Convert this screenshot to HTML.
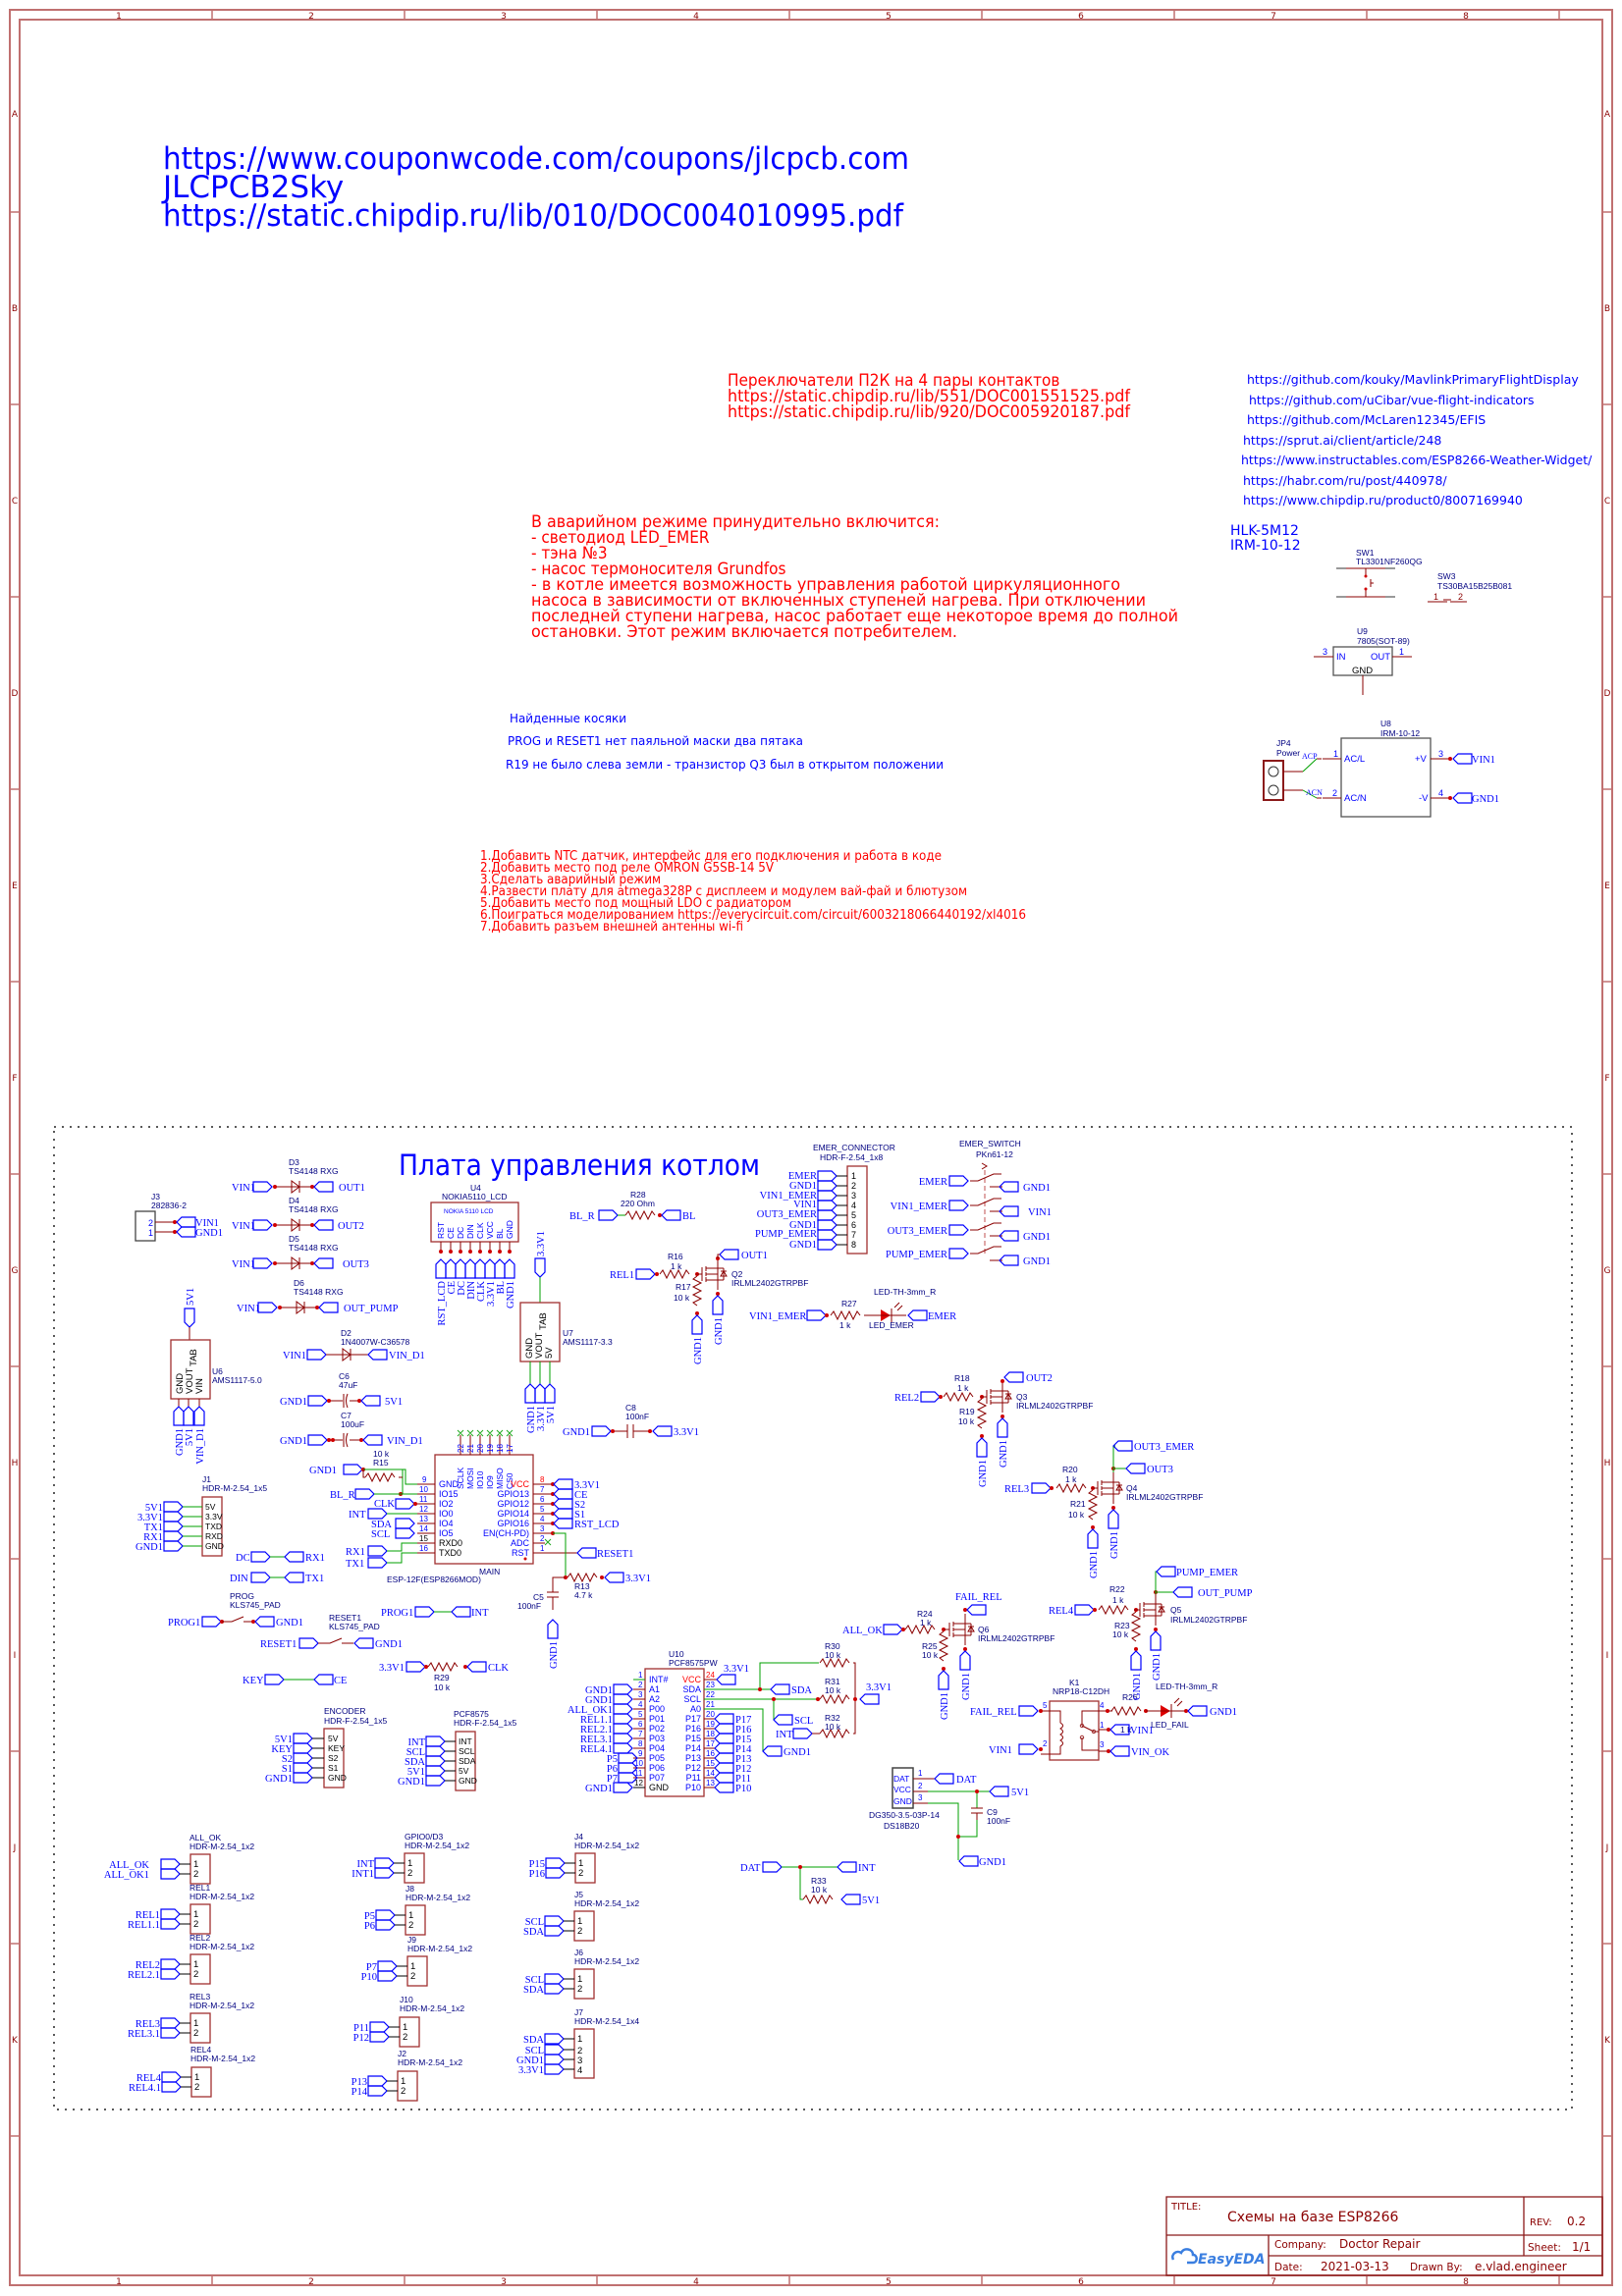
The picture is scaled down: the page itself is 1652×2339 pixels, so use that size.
<!DOCTYPE html>
<html><head><meta charset="utf-8">
<style>
html,body{margin:0;padding:0;background:#fff;}
svg{display:block}
.n{fill:#0000ff;font-family:"Liberation Serif",serif;font-size:10.5px}
.c{fill:#000080;font-family:"Liberation Sans","DejaVu Sans",sans-serif;font-size:8.5px}
.p{fill:#000;font-family:"Liberation Sans",sans-serif;font-size:9.5px}
.pn{fill:#8b0000;font-family:"Liberation Sans",sans-serif;font-size:9px}
.fr{fill:#8b0000;font-family:"DejaVu Sans",sans-serif;font-size:9px}
.red{fill:#ff0000;font-family:"DejaVu Sans Condensed","DejaVu Sans","Noto Sans CJK SC",sans-serif;font-stretch:condensed}
.blue{fill:#0000ff;font-family:"DejaVu Sans","Noto Sans CJK SC",sans-serif}
.tb{fill:#8b0000;font-family:"DejaVu Sans",sans-serif}
.nl{fill:none;stroke:#0000ff;stroke-width:1.2}
.w{stroke:#8b0000;stroke-width:1;fill:none}
.g{stroke:#00a000;stroke-width:1;fill:none}
.k{stroke:#a03030;stroke-width:1.3;fill:none}
.d{fill:#d00000}
</style></head><body>
<svg width="1652" height="2339" viewBox="0 0 1652 2339" xmlns="http://www.w3.org/2000/svg">
<defs>
<path id="A" class="nl" d="M0,-5 h14 l5,5 l-5,5 h-14 z"/>
<path id="B" class="nl" d="M0,0 l5,-5 h14 v10 h-14 z"/>
<path id="U" class="nl" d="M0,0 l5,5 v14 h-10 v-14 z"/>
<path id="D" class="nl" d="M-5,0 h10 v14 l-5,5 l-5,-5 z"/>
<path id="RH" class="w" d="M0,0 l3,-4 l4,8 l4,-8 l4,8 l4,-8 l4,8 l4,-8 l3,4"/>
<path id="RV" class="w" d="M0,0 l-4,3 l8,4 l-8,4 l8,4 l-8,4 l8,4 l-8,4 l4,3"/>
<g id="Q"><path class="w" d="M-8,0 h6 M-2,-7 v14 M2,-8 v5 M2,-2 v4 M2,3 v5 M2,-6 h12 v-10 M2,6 h12 v10 M2,0 h12 v-6 M14,0 v6 M20,-6 v12 M14,-6 h6 M14,6 h6"/><path class="w" d="M17,2 l3,-5 l3,5 z M17,-3 h6"/></g>
</defs>

<!-- FRAME -->
<rect x="10" y="10" width="1632" height="2318" fill="none" stroke="#c07070" stroke-width="2"/>
<rect x="20" y="20" width="1612" height="2298" fill="none" stroke="#c07070" stroke-width="2"/>
<g stroke="#c07070" stroke-width="1.5">
<path d="M216,10v10M412,10v10M608,10v10M804,10v10M1000,10v10M1196,10v10M1392,10v10M1588,10v10"/>
<path d="M216,2318v10M412,2318v10M608,2318v10M804,2318v10M1000,2318v10M1196,2318v10M1392,2318v10M1588,2318v10"/>
<path d="M10,216h10M10,412h10M10,608h10M10,804h10M10,1000h10M10,1196h10M10,1392h10M10,1588h10M10,1784h10M10,1980h10M10,2176h10"/>
<path d="M1632,216h10M1632,412h10M1632,608h10M1632,804h10M1632,1000h10M1632,1196h10M1632,1392h10M1632,1588h10M1632,1784h10M1632,1980h10M1632,2176h10"/>
</g>
<g class="fr" text-anchor="middle">
<text x="121" y="19">1</text><text x="317" y="19">2</text><text x="513" y="19">3</text><text x="709" y="19">4</text><text x="905" y="19">5</text><text x="1101" y="19">6</text><text x="1297" y="19">7</text><text x="1493" y="19">8</text>
<text x="121" y="2327">1</text><text x="317" y="2327">2</text><text x="513" y="2327">3</text><text x="709" y="2327">4</text><text x="905" y="2327">5</text><text x="1101" y="2327">6</text><text x="1297" y="2327">7</text><text x="1493" y="2327">8</text>
<text x="15" y="119">A</text><text x="15" y="317">B</text><text x="15" y="513">C</text><text x="15" y="709">D</text><text x="15" y="905">E</text><text x="15" y="1101">F</text><text x="15" y="1297">G</text><text x="15" y="1493">H</text><text x="15" y="1689">I</text><text x="15" y="1885">J</text><text x="15" y="2081">K</text>
<text x="1637" y="119">A</text><text x="1637" y="317">B</text><text x="1637" y="513">C</text><text x="1637" y="709">D</text><text x="1637" y="905">E</text><text x="1637" y="1101">F</text><text x="1637" y="1297">G</text><text x="1637" y="1493">H</text><text x="1637" y="1689">I</text><text x="1637" y="1885">J</text><text x="1637" y="2081">K</text>
</g>

<!-- TOP TEXT -->
<g class="blue" style="font-size:31px">
<text x="166" y="172" textLength="760" lengthAdjust="spacingAndGlyphs">https://www.couponwcode.com/coupons/jlcpcb.com</text>
<text x="166" y="201">JLCPCB2Sky</text>
<text x="166" y="230" textLength="754" lengthAdjust="spacingAndGlyphs">https://static.chipdip.ru/lib/010/DOC004010995.pdf</text>
</g>
<g class="red" style="font-size:17px">
<text x="741" y="393">Переключатели П2К на 4 пары контактов</text>
<text x="741" y="409" textLength="410" lengthAdjust="spacingAndGlyphs">https://static.chipdip.ru/lib/551/DOC001551525.pdf</text>
<text x="741" y="425" textLength="410" lengthAdjust="spacingAndGlyphs">https://static.chipdip.ru/lib/920/DOC005920187.pdf</text>
</g>
<g class="red" style="font-size:17px">
<text x="541" y="537" textLength="416" lengthAdjust="spacingAndGlyphs">В аварийном режиме принудительно включится:</text>
<text x="541" y="553">- светодиод LED_EMER</text>
<text x="541" y="569">- тэна №3</text>
<text x="541" y="585">- насос термоносителя Grundfos</text>
<text x="541" y="601" textLength="600" lengthAdjust="spacingAndGlyphs">- в котле имеется возможность управления работой циркуляционного</text>
<text x="541" y="617" textLength="626" lengthAdjust="spacingAndGlyphs">насоса в зависимости от включенных ступеней нагрева. При отключении</text>
<text x="541" y="633" textLength="659" lengthAdjust="spacingAndGlyphs">последней ступени нагрева, насос работает еще некоторое время до полной</text>
<text x="541" y="649" textLength="434" lengthAdjust="spacingAndGlyphs">остановки. Этот режим включается потребителем.</text>
</g>
<g class="blue" style="font-size:12.5px">
<text x="519" y="736" textLength="119" lengthAdjust="spacingAndGlyphs">Найденные косяки</text>
<text x="517" y="759" textLength="301" lengthAdjust="spacingAndGlyphs">PROG и RESET1 нет паяльной маски два пятака</text>
<text x="515" y="783" textLength="446" lengthAdjust="spacingAndGlyphs">R19 не было слева земли - транзистор Q3 был в открытом положении</text>
</g>
<g class="red" style="font-size:13px">
<text x="489" y="876" textLength="470" lengthAdjust="spacingAndGlyphs">1.Добавить NTC датчик, интерфейс для его подключения и работа в коде</text>
<text x="489" y="888" textLength="299" lengthAdjust="spacingAndGlyphs">2.Добавить место под реле OMRON G5SB-14 5V</text>
<text x="489" y="900" textLength="184" lengthAdjust="spacingAndGlyphs">3.Сделать аварийный режим</text>
<text x="489" y="912" textLength="496" lengthAdjust="spacingAndGlyphs">4.Развести плату для atmega328P с дисплеем и модулем вай-фай и блютузом</text>
<text x="489" y="924" textLength="317" lengthAdjust="spacingAndGlyphs">5.Добавить место под мощный LDO с радиатором</text>
<text x="489" y="936" textLength="556" lengthAdjust="spacingAndGlyphs">6.Поиграться моделированием https://everycircuit.com/circuit/6003218066440192/xl4016</text>
<text x="489" y="948" textLength="268" lengthAdjust="spacingAndGlyphs">7.Добавить разъем внешней антенны wi-fi</text>
</g>
<g class="blue" style="font-size:12.5px">
<text x="1270" y="391">https://github.com/kouky/MavlinkPrimaryFlightDisplay</text>
<text x="1272" y="412">https://github.com/uCibar/vue-flight-indicators</text>
<text x="1270" y="432">https://github.com/McLaren12345/EFIS</text>
<text x="1266" y="453">https://sprut.ai/client/article/248</text>
<text x="1264" y="473">https://www.instructables.com/ESP8266-Weather-Widget/</text>
<text x="1266" y="494">https://habr.com/ru/post/440978/</text>
<text x="1266" y="514">https://www.chipdip.ru/product0/8007169940</text>
<text x="1253" y="545" style="font-size:14px">HLK-5M12</text>
<text x="1253" y="560" style="font-size:14px">IRM-10-12</text>
</g>

<!-- SW1, SW3, U9, U8, JP4 -->
<g>
<text class="c" x="1381" y="566">SW1</text><text class="c" x="1381" y="575">TL3301NF260QG</text>
<path class="w" d="M1361,579h60M1361,608h60M1391,579v8M1391,600v8"/><path stroke="#333" d="M1361,579h10M1411,579h10M1361,608h10M1411,608h10"/>
<circle cx="1391" cy="587" r="1.5" class="d"/><circle cx="1391" cy="600" r="1.5" class="d"/><path class="w" d="M1396,590v8M1396,594h3"/>
<text class="c" x="1464" y="590">SW3</text><text class="c" x="1464" y="600">TS30BA15B25B081</text>
<path class="w" d="M1454,613h20M1477,613h17M1470,611h8"/><text class="pn" x="1460" y="611">1</text><text class="pn" x="1485" y="611">2</text>
<text class="c" x="1382" y="646">U9</text><text class="c" x="1382" y="656">7805(SOT-89)</text>
<rect x="1358" y="659" width="60" height="29" fill="none" stroke="#555" stroke-width="1.3"/>
<path class="w" d="M1338,669h20M1418,669h20M1388,688v20"/>
<text class="p" x="1361" y="672" style="fill:#0000ff">IN</text><text class="p" x="1396" y="672" style="fill:#0000ff">OUT</text><text class="p" x="1377" y="686">GND</text>
<text class="pn" x="1347" y="667" style="fill:#0000ff">3</text><text class="pn" x="1425" y="667" style="fill:#0000ff">1</text>
<text class="c" x="1406" y="740">U8</text><text class="c" x="1406" y="750">IRM-10-12</text>
<rect x="1366" y="752" width="91" height="80" fill="none" stroke="#555" stroke-width="1.3"/>
<path class="w" d="M1347,773h19M1347,813h19M1457,773h20M1457,813h20"/>
<text class="p" x="1369" y="776" style="fill:#0000ff">AC/L</text><text class="p" x="1369" y="816" style="fill:#0000ff">AC/N</text>
<text class="p" x="1441" y="776" style="fill:#0000ff">+V</text><text class="p" x="1445" y="816" style="fill:#0000ff">-V</text>
<text class="pn" x="1358" y="771" style="fill:#0000ff">1</text><text class="pn" x="1357" y="811" style="fill:#0000ff">2</text><text class="pn" x="1465" y="771" style="fill:#0000ff">3</text><text class="pn" x="1465" y="811" style="fill:#0000ff">4</text>
<circle cx="1477" cy="773" r="2" class="d"/><circle cx="1477" cy="813" r="2" class="d"/>
<use href="#B" x="1480" y="773"/><use href="#B" x="1480" y="813"/>
<text class="n" x="1499" y="777">VIN1</text><text class="n" x="1499" y="817">GND1</text>
<text class="c" x="1300" y="760">JP4</text><text class="c" x="1300" y="770">Power</text>
<rect x="1287" y="775" width="20" height="40" fill="none" stroke="#8b1a1a" stroke-width="2"/>
<circle cx="1297" cy="786" r="5" fill="none" stroke="#333"/><circle cx="1297" cy="805" r="5" fill="none" stroke="#333"/>
<path class="w" d="M1307,786h20M1307,805h20M1346,773h-5M1346,813h-5"/><path class="g" d="M1327,786l14,-13M1327,805l14,8"/>
<text class="n" x="1326" y="773" style="font-size:8px">ACP</text><text class="n" x="1330" y="810" style="font-size:8px">ACN</text>
</g>

<!-- DASHED BOX -->
<rect x="55" y="1148" width="1546" height="1001" fill="none" stroke="#222" stroke-width="1.5" stroke-dasharray="2 6"/>
<text x="406" y="1197" class="blue" style="font-size:29px" textLength="368" lengthAdjust="spacingAndGlyphs">Плата управления котлом</text>

<!-- DIODES D3-D6 -->
<g>
<text class="c" x="294" y="1187">D3</text><text class="c" x="294" y="1196">TS4148 RXG</text>
<text class="n" x="236" y="1213">VIN1</text><use href="#A" x="258" y="1209"/><path class="w" d="M280,1209h40"/><path class="w" d="M305,1203v12M305,1209l-8,-6v12z" fill="none"/><circle cx="280" cy="1209" r="2" class="d"/><circle cx="318" cy="1209" r="2" class="d"/><use href="#B" x="320" y="1209"/><text class="n" x="345" y="1213">OUT1</text>
<text class="c" x="294" y="1226">D4</text><text class="c" x="294" y="1235">TS4148 RXG</text>
<text class="n" x="236" y="1252">VIN1</text><use href="#A" x="258" y="1248"/><path class="w" d="M280,1248h40M305,1242v12M305,1248l-8,-6v12z"/><circle cx="280" cy="1248" r="2" class="d"/><circle cx="318" cy="1248" r="2" class="d"/><use href="#B" x="320" y="1248"/><text class="n" x="344" y="1252">OUT2</text>
<text class="c" x="294" y="1265">D5</text><text class="c" x="294" y="1274">TS4148 RXG</text>
<text class="n" x="236" y="1291">VIN1</text><use href="#A" x="258" y="1287"/><path class="w" d="M280,1287h40M305,1281v12M305,1287l-8,-6v12z"/><circle cx="280" cy="1287" r="2" class="d"/><circle cx="318" cy="1287" r="2" class="d"/><use href="#B" x="320" y="1287"/><text class="n" x="349" y="1291">OUT3</text>
<text class="c" x="299" y="1310">D6</text><text class="c" x="299" y="1319">TS4148 RXG</text>
<text class="n" x="241" y="1336">VIN1</text><use href="#A" x="263" y="1332"/><path class="w" d="M285,1332h40M310,1326v12M310,1332l-8,-6v12z"/><circle cx="285" cy="1332" r="2" class="d"/><circle cx="323" cy="1332" r="2" class="d"/><use href="#B" x="325" y="1332"/><text class="n" x="350" y="1336">OUT_PUMP</text>
</g>

<!-- J3 -->
<g>
<text class="c" x="154" y="1222">J3</text><text class="c" x="154" y="1231">282836-2</text>
<rect x="138" y="1234" width="20" height="30" fill="none" stroke="#444" stroke-width="1.3"/>
<text class="pn" x="151" y="1249" style="fill:#0000ff">2</text><text class="pn" x="151" y="1259" style="fill:#0000ff">1</text>
<path class="w" d="M158,1245h20M158,1255h20"/><circle cx="178" cy="1245" r="2" class="d"/><circle cx="178" cy="1255" r="2" class="d"/>
<use href="#B" x="180" y="1245"/><use href="#B" x="180" y="1255"/>
<text class="n" x="199" y="1249">VIN1</text><text class="n" x="199" y="1259">GND1</text>
</g>

<!-- U6 -->
<g>
<text class="n" transform="translate(197,1330) rotate(-90)">5V1</text>
<use href="#D" x="193" y="1333"/>
<path class="w" d="M193,1352v13"/>
<rect x="174" y="1365" width="40" height="60" fill="none" stroke="#a03030" stroke-width="1.3"/>
<text class="p" transform="translate(200,1392) rotate(-90)">TAB</text>
<text class="p" transform="translate(186,1420) rotate(-90)">GND</text>
<text class="p" transform="translate(196,1420) rotate(-90)">VOUT</text>
<text class="p" transform="translate(206,1420) rotate(-90)">VIN</text>
<text class="c" x="216" y="1400">U6</text><text class="c" x="216" y="1409">AMS1117-5.0</text>
<path class="w" d="M182,1425v8M192,1425v8M203,1425v8"/>
<use href="#U" x="182" y="1433"/><use href="#U" x="192" y="1433"/><use href="#U" x="203" y="1433"/>
<text class="n" transform="translate(186,1455) rotate(-90)" text-anchor="end">GND1</text>
<text class="n" transform="translate(196,1455) rotate(-90)" text-anchor="end">5V1</text>
<text class="n" transform="translate(207,1455) rotate(-90)" text-anchor="end">VIN_D1</text>
</g>

<!-- D2, C6, C7 -->
<g>
<text class="c" x="347" y="1361">D2</text><text class="c" x="347" y="1370">1N4007W-C36578</text>
<text class="n" x="288" y="1384">VIN1</text><use href="#A" x="313" y="1380"/><path class="w" d="M332,1380h43M357,1374v12M357,1380l-8,-6v12z"/><use href="#B" x="375" y="1380"/><text class="n" x="396" y="1384">VIN_D1</text>
<text class="c" x="345" y="1405">C6</text><text class="c" x="345" y="1414">47uF</text>
<text class="n" x="285" y="1431">GND1</text><use href="#A" x="314" y="1427"/><path class="w" d="M335,1427h14M356,1427h12M350,1420v14M354,1420q-3,7 0,14"/><circle cx="335" cy="1427" r="2" class="d"/><circle cx="366" cy="1427" r="2" class="d"/><use href="#B" x="368" y="1427"/><text class="n" x="392" y="1431">5V1</text>
<text class="c" x="347" y="1445">C7</text><text class="c" x="347" y="1454">100uF</text>
<text class="n" x="285" y="1471">GND1</text><use href="#A" x="314" y="1467"/><path class="w" d="M335,1467h14M356,1467h12M350,1460v14M354,1460q-3,7 0,14"/><circle cx="335" cy="1467" r="2" class="d"/><circle cx="339" cy="1467" r="2" class="d"/><circle cx="368" cy="1467" r="2" class="d"/><use href="#B" x="370" y="1467"/><text class="n" x="394" y="1471">VIN_D1</text>
</g>

<!-- U4 LCD -->
<g>
<text class="c" x="479" y="1213">U4</text><text class="c" x="450" y="1222">NOKIA5110_LCD</text>
<rect x="439" y="1225" width="89" height="40" fill="none" stroke="#a03030" stroke-width="1.3"/>
<text x="452" y="1236" style="fill:#0000ff;font-family:'Liberation Sans';font-size:6.5px">NOKIA 5110 LCD</text>
<g class="p" style="font-size:8.5px;fill:#0000ff">
<text transform="translate(452,1262) rotate(-90)">RST</text><text transform="translate(462,1262) rotate(-90)">CE</text><text transform="translate(472,1262) rotate(-90)">DC</text><text transform="translate(482,1262) rotate(-90)">DIN</text><text transform="translate(492,1262) rotate(-90)">CLK</text><text transform="translate(502,1262) rotate(-90)">VCC</text><text transform="translate(512,1262) rotate(-90)">BL</text><text transform="translate(522,1262) rotate(-90)">GND</text>
</g>
<path class="w" d="M449,1265v10M459,1265v10M469,1265v10M479,1265v10M489,1265v10M499,1265v10M509,1265v10M519,1265v10"/>
<g class="d"><circle cx="449" cy="1275" r="2"/><circle cx="459" cy="1275" r="2"/><circle cx="469" cy="1275" r="2"/><circle cx="479" cy="1275" r="2"/><circle cx="489" cy="1275" r="2"/><circle cx="499" cy="1275" r="2"/><circle cx="509" cy="1275" r="2"/><circle cx="519" cy="1275" r="2"/></g>
<use href="#U" x="449" y="1283"/><use href="#U" x="459" y="1283"/><use href="#U" x="469" y="1283"/><use href="#U" x="479" y="1283"/><use href="#U" x="489" y="1283"/><use href="#U" x="499" y="1283"/><use href="#U" x="509" y="1283"/><use href="#U" x="519" y="1283"/>
<g class="n" text-anchor="end">
<text transform="translate(453,1305) rotate(-90)">RST_LCD</text><text transform="translate(463,1305) rotate(-90)">CE</text><text transform="translate(473,1305) rotate(-90)">DC</text><text transform="translate(483,1305) rotate(-90)">DIN</text><text transform="translate(493,1305) rotate(-90)">CLK</text><text transform="translate(503,1305) rotate(-90)">3.3V1</text><text transform="translate(513,1305) rotate(-90)">BL</text><text transform="translate(523,1305) rotate(-90)">GND1</text>
</g>
</g>

<!-- U7 -->
<g>
<text class="n" transform="translate(554,1280) rotate(-90)">3.3V1</text>
<use href="#D" x="550" y="1282"/><path class="g" d="M550,1301v26"/>
<rect x="530" y="1327" width="40" height="60" fill="none" stroke="#a03030" stroke-width="1.3"/>
<text class="p" transform="translate(556,1355) rotate(-90)">TAB</text>
<text class="p" transform="translate(542,1384) rotate(-90)">GND</text><text class="p" transform="translate(552,1384) rotate(-90)">VOUT</text><text class="p" transform="translate(562,1384) rotate(-90)">5V</text>
<text class="c" x="573" y="1361">U7</text><text class="c" x="573" y="1370">AMS1117-3.3</text>
<path class="g" d="M540,1387v23M550,1387v23M560,1387v23"/>
<use href="#U" x="540" y="1410"/><use href="#U" x="550" y="1410"/><use href="#U" x="560" y="1410"/>
<g class="n" text-anchor="end"><text transform="translate(544,1432) rotate(-90)">GND1</text><text transform="translate(554,1432) rotate(-90)">3.3V1</text><text transform="translate(564,1432) rotate(-90)">5V1</text></g>
</g>

<!-- C8 -->
<g>
<text class="c" x="637" y="1437">C8</text><text class="c" x="637" y="1446">100nF</text>
<text class="n" x="573" y="1462">GND1</text><use href="#A" x="603" y="1458"/><path class="w" d="M623,1458h16M645,1458h17M639,1451v14M645,1451v14"/><circle cx="624" cy="1458" r="2" class="d"/><circle cx="662" cy="1458" r="2" class="d"/><use href="#B" x="665" y="1458"/><text class="n" x="686" y="1462">3.3V1</text>
</g>

<!-- ESP -->
<g>
<rect x="443" y="1482" width="100" height="111" fill="none" stroke="#a03030" stroke-width="1.3"/>
<path class="w" d="M469,1482v-20M479,1482v-20M489,1482v-20M499,1482v-20M509,1482v-20M519,1482v-20"/>
<g stroke="#2a2" stroke-width="1"><path d="M466,1457l6,6M472,1457l-6,6M476,1457l6,6M482,1457l-6,6M486,1457l6,6M492,1457l-6,6M496,1457l6,6M502,1457l-6,6M506,1457l6,6M512,1457l-6,6M516,1457l6,6M522,1457l-6,6"/></g>
<g class="pn" style="fill:#0000ff;font-size:8px"><text transform="translate(472,1480) rotate(-90)">22</text><text transform="translate(482,1480) rotate(-90)">21</text><text transform="translate(492,1480) rotate(-90)">20</text><text transform="translate(502,1480) rotate(-90)">19</text><text transform="translate(512,1480) rotate(-90)">18</text><text transform="translate(522,1480) rotate(-90)">17</text></g>
<g class="p" style="fill:#0000ff;font-size:8.5px"><text transform="translate(472,1517) rotate(-90)">SCLK</text><text transform="translate(482,1517) rotate(-90)">MOSI</text><text transform="translate(492,1517) rotate(-90)">IO10</text><text transform="translate(502,1517) rotate(-90)">IO9</text><text transform="translate(512,1517) rotate(-90)">MISO</text><text transform="translate(522,1517) rotate(-90)">CS0</text></g>
<g class="p" style="fill:#0000ff;font-size:9px">
<text x="447" y="1515">GND</text><text x="447" y="1525">IO15</text><text x="447" y="1535">IO2</text><text x="447" y="1545">IO0</text><text x="447" y="1555">IO4</text><text x="447" y="1565">IO5</text><text x="447" y="1575" style="fill:#000">RXD0</text><text x="447" y="1585" style="fill:#000">TXD0</text>
</g>
<g class="p" style="fill:#0000ff;font-size:9px" text-anchor="end">
<text x="539" y="1515" style="fill:#ff0000">VCC</text><text x="539" y="1525">GPIO13</text><text x="539" y="1535">GPIO12</text><text x="539" y="1545">GPIO14</text><text x="539" y="1555">GPIO16</text><text x="539" y="1565">EN(CH-PD)</text><text x="539" y="1575">ADC</text><text x="539" y="1585">RST</text>
</g>
<path class="w" d="M425,1512h18M425,1522h18M425,1532h18M425,1542h18M425,1552h18M425,1562h18M425,1572h18M425,1582h18"/>
<path class="w" d="M543,1512h20M543,1522h20M543,1532h20M543,1542h20M543,1552h20M543,1562h20M543,1572h12M543,1582h45"/>
<g class="pn" style="fill:#0000ff;font-size:8px"><text x="430" y="1510">9</text><text x="427" y="1520">10</text><text x="427" y="1530">11</text><text x="427" y="1540">12</text><text x="427" y="1550">13</text><text x="427" y="1560">14</text><text x="427" y="1570" style="fill:#000">15</text><text x="427" y="1580">16</text></g>
<g class="pn" style="fill:#0000ff;font-size:8px"><text x="550" y="1510" style="fill:#ff0000">8</text><text x="550" y="1520">7</text><text x="550" y="1530">6</text><text x="550" y="1540">5</text><text x="550" y="1550">4</text><text x="550" y="1560">3</text><text x="550" y="1570">2</text><text x="550" y="1580">1</text></g>
<path stroke="#2a2" d="M555,1568l6,6M561,1568l-6,6"/>
<g class="d"><circle cx="563" cy="1512" r="2"/><circle cx="563" cy="1522" r="2"/><circle cx="563" cy="1532" r="2"/><circle cx="563" cy="1542" r="2"/><circle cx="563" cy="1552" r="2"/><circle cx="563" cy="1562" r="2"/><circle cx="535" cy="1588" r="1.5"/></g>
<use href="#B" x="564" y="1512"/><use href="#B" x="564" y="1522"/><use href="#B" x="564" y="1532"/><use href="#B" x="564" y="1542"/><use href="#B" x="564" y="1552"/>
<text class="n" x="585" y="1516">3.3V1</text><text class="n" x="585" y="1526">CE</text><text class="n" x="585" y="1536">S2</text><text class="n" x="585" y="1546">S1</text><text class="n" x="585" y="1556">RST_LCD</text>
<path class="g" d="M563,1562h13v45"/>
<use href="#B" x="588" y="1582"/><text class="n" x="608" y="1586">RESET1</text>
<text class="c" x="488" y="1604">MAIN</text><text class="c" x="394" y="1612">ESP-12F(ESP8266MOD)</text>
<!-- left nets -->
<text class="n" x="315" y="1501">GND1</text><use href="#A" x="350" y="1497"/><circle cx="370" cy="1497" r="2" class="d"/>
<path class="g" d="M370,1497h43v15h12M410,1497v25"/><use href="#RH" x="372" y="1505"/><path class="w" d="M370,1497v8h2M406,1505h4"/>
<text class="c" x="380" y="1484">10 k</text><text class="c" x="380" y="1493">R15</text>
<circle cx="408" cy="1522" r="2" class="d"/>
<text class="n" x="336" y="1526">BL_R</text><use href="#A" x="362" y="1522"/><path class="g" d="M381,1522h44"/>
<text class="n" x="381" y="1535">CLK</text><use href="#A" x="403" y="1532"/><circle cx="423" cy="1532" r="2" class="d"/>
<text class="n" x="355" y="1546">INT</text><use href="#A" x="375" y="1542"/><path class="g" d="M394,1542h31"/>
<text class="n" x="378" y="1556">SDA</text><use href="#A" x="403" y="1552"/>
<text class="n" x="378" y="1566">SCL</text><use href="#A" x="403" y="1562"/>
<text class="n" x="352" y="1584">RX1</text><use href="#A" x="375" y="1580"/><path class="g" d="M394,1580h15v-8h16"/>
<text class="n" x="352" y="1596">TX1</text><use href="#A" x="375" y="1592"/><path class="g" d="M394,1592h15v-10h16"/>
</g>

<!-- J1 -->
<g>
<text class="c" x="206" y="1510">J1</text><text class="c" x="206" y="1519">HDR-M-2.54_1x5</text>
<rect x="206" y="1525" width="20" height="60" fill="none" stroke="#a03030" stroke-width="1.3"/>
<g class="p" style="font-size:8.5px"><text x="209" y="1538">5V</text><text x="209" y="1548">3.3V</text><text x="209" y="1558">TXD</text><text x="209" y="1568">RXD</text><text x="209" y="1578">GND</text></g>
<use href="#A" x="167" y="1535"/><use href="#A" x="167" y="1545"/><use href="#A" x="167" y="1555"/><use href="#A" x="167" y="1565"/><use href="#A" x="167" y="1575"/>
<path class="g" d="M186,1535h20M186,1545h20M186,1555h20M186,1565h20M186,1575h20"/>
<g class="n" text-anchor="end"><text x="166" y="1539">5V1</text><text x="166" y="1549">3.3V1</text><text x="166" y="1559">TX1</text><text x="166" y="1569">RX1</text><text x="166" y="1579">GND1</text></g>
</g>
<text class="n" x="240" y="1590">DC</text><use href="#A" x="256" y="1586"/><path class="g" d="M275,1586h15"/><use href="#B" x="290" y="1586"/><text class="n" x="311" y="1590">RX1</text>
<text class="n" x="234" y="1611">DIN</text><use href="#A" x="256" y="1607"/><path class="g" d="M275,1607h15"/><use href="#B" x="290" y="1607"/><text class="n" x="311" y="1611">TX1</text>
<!-- R13 C5 -->
<circle cx="576" cy="1607" r="2" class="d"/><use href="#RH" x="578" y="1607"/><circle cx="613" cy="1607" r="2" class="d"/><use href="#B" x="616" y="1607"/><text class="n" x="637" y="1611">3.3V1</text>
<text class="c" x="585" y="1619">R13</text><text class="c" x="585" y="1628">4.7 k</text>
<path class="w" d="M576,1607h-13v15M557,1622h12M557,1627h12M563,1627v13"/>
<text class="c" x="543" y="1630">C5</text><text class="c" x="527" y="1639">100nF</text>
<use href="#U" x="563" y="1650"/><text class="n" transform="translate(567,1672) rotate(-90)" text-anchor="end">GND1</text>
<text class="n" x="388" y="1646">PROG1</text><use href="#A" x="423" y="1642"/><path class="g" d="M442,1642h18"/><use href="#B" x="460" y="1642"/><text class="n" x="480" y="1646">INT</text>

<!-- PROG / RESET / R29 / KEY -->
<text class="c" x="234" y="1629">PROG</text><text class="c" x="234" y="1638">KLS745_PAD</text>
<text class="n" x="171" y="1656">PROG1</text><use href="#A" x="206" y="1652"/><circle cx="226" cy="1652" r="2" class="d"/><path class="w" d="M226,1652h10l12,-5M248,1652h10"/><circle cx="258" cy="1652" r="2" class="d"/><use href="#B" x="260" y="1652"/><text class="n" x="281" y="1656">GND1</text>
<text class="c" x="335" y="1651">RESET1</text><text class="c" x="335" y="1660">KLS745_PAD</text>
<text class="n" x="265" y="1678">RESET1</text><use href="#A" x="305" y="1674"/><path class="w" d="M324,1674h12l12,-5M348,1674h12"/><use href="#B" x="361" y="1674"/><text class="n" x="382" y="1678">GND1</text>
<text class="n" x="386" y="1702">3.3V1</text><use href="#A" x="414" y="1698"/><circle cx="434" cy="1698" r="2" class="d"/><use href="#RH" x="436" y="1698"/><circle cx="474" cy="1698" r="2" class="d"/><use href="#B" x="476" y="1698"/><text class="n" x="497" y="1702">CLK</text>
<text class="c" x="442" y="1712">R29</text><text class="c" x="442" y="1722">10 k</text>
<text class="n" x="247" y="1715">KEY</text><use href="#A" x="270" y="1711"/><path class="g" d="M289,1711h31"/><use href="#B" x="320" y="1711"/><text class="n" x="340" y="1715">CE</text>

<!-- ENCODER -->
<g>
<text class="c" x="330" y="1746">ENCODER</text><text class="c" x="330" y="1756">HDR-F-2.54_1x5</text>
<rect x="330" y="1761" width="20" height="60" fill="none" stroke="#a03030" stroke-width="1.3"/>
<g class="p" style="font-size:8.5px"><text x="334" y="1774">5V</text><text x="334" y="1784">KEY</text><text x="334" y="1794">S2</text><text x="334" y="1804">S1</text><text x="334" y="1814">GND</text></g>
<use href="#A" x="299" y="1771"/><use href="#A" x="299" y="1781"/><use href="#A" x="299" y="1791"/><use href="#A" x="299" y="1801"/><use href="#A" x="299" y="1811"/>
<path class="p" stroke="#000" d="M318,1771h12M318,1781h12M318,1791h12M318,1801h12M318,1811h12"/>
<g class="n" text-anchor="end"><text x="298" y="1775">5V1</text><text x="298" y="1785">KEY</text><text x="298" y="1795">S2</text><text x="298" y="1805">S1</text><text x="298" y="1815">GND1</text></g>
<text class="c" x="462" y="1749">PCF8575</text><text class="c" x="462" y="1758">HDR-F-2.54_1x5</text>
<rect x="464" y="1764" width="20" height="60" fill="none" stroke="#a03030" stroke-width="1.3"/>
<g class="p" style="font-size:8.5px"><text x="467" y="1777">INT</text><text x="467" y="1787">SCL</text><text x="467" y="1797">SDA</text><text x="467" y="1807">5V</text><text x="467" y="1817">GND</text></g>
<use href="#A" x="434" y="1774"/><use href="#A" x="434" y="1784"/><use href="#A" x="434" y="1794"/><use href="#A" x="434" y="1804"/><use href="#A" x="434" y="1814"/>
<path stroke="#000" d="M453,1774h11M453,1784h11M453,1794h11M453,1804h11M453,1814h11"/>
<g class="n" text-anchor="end"><text x="433" y="1778">INT</text><text x="433" y="1788">SCL</text><text x="433" y="1798">SDA</text><text x="433" y="1808">5V1</text><text x="433" y="1818">GND1</text></g>
</g>

<!-- 1x2 HEADERS -->
<g id="hdrs">
<!-- col1 -->
<text class="c" x="193" y="1875">ALL_OK</text><text class="c" x="193" y="1884">HDR-M-2.54_1x2</text>
<rect x="194" y="1889" width="20" height="30" fill="none" stroke="#a03030" stroke-width="1.3"/><text class="p" x="197" y="1902">1</text><text class="p" x="197" y="1912">2</text>
<use href="#A" x="164" y="1899"/><use href="#A" x="164" y="1909"/><path stroke="#000" d="M183,1899h11M183,1909h11"/>
<text class="n" x="152" y="1903" text-anchor="end">ALL_OK</text><text class="n" x="152" y="1913" text-anchor="end">ALL_OK1</text>

<text class="c" x="193" y="1926">REL1</text><text class="c" x="193" y="1935">HDR-M-2.54_1x2</text>
<rect x="194" y="1940" width="20" height="30" fill="none" stroke="#a03030" stroke-width="1.3"/><text class="p" x="197" y="1953">1</text><text class="p" x="197" y="1963">2</text>
<use href="#A" x="164" y="1950"/><use href="#A" x="164" y="1960"/><path stroke="#000" d="M183,1950h11M183,1960h11"/>
<text class="n" x="163" y="1954" text-anchor="end">REL1</text><text class="n" x="163" y="1964" text-anchor="end">REL1.1</text>

<text class="c" x="193" y="1977">REL2</text><text class="c" x="193" y="1986">HDR-M-2.54_1x2</text>
<rect x="194" y="1991" width="20" height="30" fill="none" stroke="#a03030" stroke-width="1.3"/><text class="p" x="197" y="2004">1</text><text class="p" x="197" y="2014">2</text>
<use href="#A" x="164" y="2001"/><use href="#A" x="164" y="2011"/><path stroke="#000" d="M183,2001h11M183,2011h11"/>
<text class="n" x="163" y="2005" text-anchor="end">REL2</text><text class="n" x="163" y="2015" text-anchor="end">REL2.1</text>

<text class="c" x="193" y="2037">REL3</text><text class="c" x="193" y="2046">HDR-M-2.54_1x2</text>
<rect x="194" y="2051" width="20" height="30" fill="none" stroke="#a03030" stroke-width="1.3"/><text class="p" x="197" y="2064">1</text><text class="p" x="197" y="2074">2</text>
<use href="#A" x="164" y="2061"/><use href="#A" x="164" y="2071"/><path stroke="#000" d="M183,2061h11M183,2071h11"/>
<text class="n" x="163" y="2065" text-anchor="end">REL3</text><text class="n" x="163" y="2075" text-anchor="end">REL3.1</text>

<text class="c" x="194" y="2091">REL4</text><text class="c" x="194" y="2100">HDR-M-2.54_1x2</text>
<rect x="195" y="2106" width="20" height="30" fill="none" stroke="#a03030" stroke-width="1.3"/><text class="p" x="198" y="2119">1</text><text class="p" x="198" y="2129">2</text>
<use href="#A" x="165" y="2116"/><use href="#A" x="165" y="2126"/><path stroke="#000" d="M184,2116h11M184,2126h11"/>
<text class="n" x="164" y="2120" text-anchor="end">REL4</text><text class="n" x="164" y="2130" text-anchor="end">REL4.1</text>
<!-- col2 -->
<text class="c" x="412" y="1874">GPIO0/D3</text><text class="c" x="412" y="1883">HDR-M-2.54_1x2</text>
<rect x="412" y="1888" width="20" height="30" fill="none" stroke="#a03030" stroke-width="1.3"/><text class="p" x="415" y="1901">1</text><text class="p" x="415" y="1911">2</text>
<use href="#A" x="382" y="1898"/><use href="#A" x="382" y="1908"/><path stroke="#000" d="M401,1898h11M401,1908h11"/>
<text class="n" x="381" y="1902" text-anchor="end">INT</text><text class="n" x="381" y="1912" text-anchor="end">INT1</text>

<text class="c" x="413" y="1927">J8</text><text class="c" x="413" y="1936">HDR-M-2.54_1x2</text>
<rect x="413" y="1941" width="20" height="30" fill="none" stroke="#a03030" stroke-width="1.3"/><text class="p" x="416" y="1954">1</text><text class="p" x="416" y="1964">2</text>
<use href="#A" x="383" y="1951"/><use href="#A" x="383" y="1961"/><path stroke="#000" d="M402,1951h11M402,1961h11"/>
<text class="n" x="382" y="1955" text-anchor="end">P5</text><text class="n" x="382" y="1965" text-anchor="end">P6</text>

<text class="c" x="415" y="1979">J9</text><text class="c" x="415" y="1988">HDR-M-2.54_1x2</text>
<rect x="415" y="1993" width="20" height="30" fill="none" stroke="#a03030" stroke-width="1.3"/><text class="p" x="418" y="2006">1</text><text class="p" x="418" y="2016">2</text>
<use href="#A" x="385" y="2003"/><use href="#A" x="385" y="2013"/><path stroke="#000" d="M404,2003h11M404,2013h11"/>
<text class="n" x="384" y="2007" text-anchor="end">P7</text><text class="n" x="384" y="2017" text-anchor="end">P10</text>

<text class="c" x="407" y="2040">J10</text><text class="c" x="407" y="2049">HDR-M-2.54_1x2</text>
<rect x="407" y="2055" width="20" height="30" fill="none" stroke="#a03030" stroke-width="1.3"/><text class="p" x="410" y="2068">1</text><text class="p" x="410" y="2078">2</text>
<use href="#A" x="377" y="2065"/><use href="#A" x="377" y="2075"/><path stroke="#000" d="M396,2065h11M396,2075h11"/>
<text class="n" x="376" y="2069" text-anchor="end">P11</text><text class="n" x="376" y="2079" text-anchor="end">P12</text>

<text class="c" x="405" y="2095">J2</text><text class="c" x="405" y="2104">HDR-M-2.54_1x2</text>
<rect x="405" y="2110" width="20" height="30" fill="none" stroke="#a03030" stroke-width="1.3"/><text class="p" x="408" y="2123">1</text><text class="p" x="408" y="2133">2</text>
<use href="#A" x="375" y="2120"/><use href="#A" x="375" y="2130"/><path stroke="#000" d="M394,2120h11M394,2130h11"/>
<text class="n" x="374" y="2124" text-anchor="end">P13</text><text class="n" x="374" y="2134" text-anchor="end">P14</text>
<!-- col3 -->
<text class="c" x="585" y="1874">J4</text><text class="c" x="585" y="1883">HDR-M-2.54_1x2</text>
<rect x="586" y="1888" width="20" height="30" fill="none" stroke="#a03030" stroke-width="1.3"/><text class="p" x="589" y="1901">1</text><text class="p" x="589" y="1911">2</text>
<use href="#A" x="556" y="1898"/><use href="#A" x="556" y="1908"/><path stroke="#000" d="M575,1898h11M575,1908h11"/>
<text class="n" x="555" y="1902" text-anchor="end">P15</text><text class="n" x="555" y="1912" text-anchor="end">P16</text>

<text class="c" x="585" y="1933">J5</text><text class="c" x="585" y="1942">HDR-M-2.54_1x2</text>
<rect x="585" y="1947" width="20" height="30" fill="none" stroke="#a03030" stroke-width="1.3"/><text class="p" x="588" y="1960">1</text><text class="p" x="588" y="1970">2</text>
<use href="#A" x="555" y="1957"/><use href="#A" x="555" y="1967"/><path stroke="#000" d="M574,1957h11M574,1967h11"/>
<text class="n" x="554" y="1961" text-anchor="end">SCL</text><text class="n" x="554" y="1971" text-anchor="end">SDA</text>

<text class="c" x="585" y="1992">J6</text><text class="c" x="585" y="2001">HDR-M-2.54_1x2</text>
<rect x="585" y="2006" width="20" height="30" fill="none" stroke="#a03030" stroke-width="1.3"/><text class="p" x="588" y="2019">1</text><text class="p" x="588" y="2029">2</text>
<use href="#A" x="555" y="2016"/><use href="#A" x="555" y="2026"/><path stroke="#000" d="M574,2016h11M574,2026h11"/>
<text class="n" x="554" y="2020" text-anchor="end">SCL</text><text class="n" x="554" y="2030" text-anchor="end">SDA</text>

<text class="c" x="585" y="2053">J7</text><text class="c" x="585" y="2062">HDR-M-2.54_1x4</text>
<rect x="585" y="2067" width="20" height="50" fill="none" stroke="#a03030" stroke-width="1.3"/><text class="p" x="588" y="2080">1</text><text class="p" x="588" y="2092">2</text><text class="p" x="588" y="2102">3</text><text class="p" x="588" y="2112">4</text>
<use href="#A" x="555" y="2077"/><use href="#A" x="555" y="2088"/><use href="#A" x="555" y="2098"/><use href="#A" x="555" y="2108"/><path stroke="#000" d="M574,2077h11M574,2088h11M574,2098h11M574,2108h11"/>
<text class="n" x="554" y="2081" text-anchor="end">SDA</text><text class="n" x="554" y="2092" text-anchor="end">SCL</text><text class="n" x="554" y="2102" text-anchor="end">GND1</text><text class="n" x="554" y="2112" text-anchor="end">3.3V1</text>
</g>

<!-- U10 PCF8575PW -->
<g>
<text class="c" x="681" y="1688">U10</text><text class="c" x="681" y="1697">PCF8575PW</text>
<rect x="657" y="1700" width="60" height="130" fill="none" stroke="#a03030" stroke-width="1.3"/>
<g class="p" style="fill:#0000ff;font-size:9px">
<text x="661" y="1714">INT#</text><text x="661" y="1724">A1</text><text x="661" y="1734">A2</text><text x="661" y="1744">P00</text><text x="661" y="1754">P01</text><text x="661" y="1764">P02</text><text x="661" y="1774">P03</text><text x="661" y="1784">P04</text><text x="661" y="1794">P05</text><text x="661" y="1804">P06</text><text x="661" y="1814">P07</text><text x="661" y="1824" style="fill:#000">GND</text>
</g>
<g class="p" style="fill:#0000ff;font-size:9px" text-anchor="end">
<text x="714" y="1714" style="fill:#ff0000">VCC</text><text x="714" y="1724">SDA</text><text x="714" y="1734">SCL</text><text x="714" y="1744">A0</text><text x="714" y="1754">P17</text><text x="714" y="1764">P16</text><text x="714" y="1774">P15</text><text x="714" y="1784">P14</text><text x="714" y="1794">P13</text><text x="714" y="1804">P12</text><text x="714" y="1814">P11</text><text x="714" y="1824">P10</text>
</g>
<path class="w" d="M645,1721h12M645,1731h12M645,1741h12M645,1751h12M645,1761h12M645,1771h12M645,1781h12M645,1791h12M645,1801h12M645,1811h12"/><path stroke="#000" d="M645,1821h12"/><path class="g" d="M645,1711h12"/>
<path class="w" d="M717,1711h13M717,1751h11M717,1761h11M717,1771h11M717,1781h11M717,1791h11M717,1801h11M717,1811h11M717,1821h11"/>
<g class="pn" style="fill:#0000ff;font-size:8px"><text x="650" y="1709">1</text><text x="650" y="1719">2</text><text x="650" y="1729">3</text><text x="650" y="1739">4</text><text x="650" y="1749">5</text><text x="650" y="1759">6</text><text x="650" y="1769">7</text><text x="650" y="1779">8</text><text x="650" y="1789">9</text><text x="646" y="1799">10</text><text x="646" y="1809">11</text><text x="646" y="1819" style="fill:#000">12</text>
<text x="719" y="1709" style="fill:#ff0000">24</text><text x="719" y="1719">23</text><text x="719" y="1729">22</text><text x="719" y="1739">21</text><text x="719" y="1749">20</text><text x="719" y="1759">19</text><text x="719" y="1769">18</text><text x="719" y="1779">17</text><text x="719" y="1789">16</text><text x="719" y="1799">15</text><text x="719" y="1809">14</text><text x="719" y="1819">13</text></g>
<use href="#A" x="625" y="1721"/><use href="#A" x="625" y="1731"/><use href="#A" x="625" y="1741"/><use href="#A" x="625" y="1751"/><use href="#A" x="625" y="1761"/><use href="#A" x="625" y="1771"/><use href="#A" x="625" y="1781"/><use href="#A" x="630" y="1791"/><use href="#A" x="630" y="1801"/><use href="#A" x="630" y="1811"/><use href="#A" x="625" y="1821"/>
<g class="n" text-anchor="end"><text x="624" y="1725">GND1</text><text x="624" y="1735">GND1</text><text x="624" y="1745">ALL_OK1</text><text x="624" y="1755">REL1.1</text><text x="624" y="1765">REL2.1</text><text x="624" y="1775">REL3.1</text><text x="624" y="1785">REL4.1</text><text x="629" y="1795">P5</text><text x="629" y="1805">P6</text><text x="629" y="1815">P7</text><text x="624" y="1825">GND1</text></g>
<use href="#B" x="730" y="1711"/><text class="n" x="737" y="1703">3.3V1</text>
<use href="#B" x="728" y="1751"/><use href="#B" x="728" y="1761"/><use href="#B" x="728" y="1771"/><use href="#B" x="728" y="1781"/><use href="#B" x="728" y="1791"/><use href="#B" x="728" y="1801"/><use href="#B" x="728" y="1811"/><use href="#B" x="728" y="1821"/>
<g class="n"><text x="749" y="1755">P17</text><text x="749" y="1765">P16</text><text x="749" y="1775">P15</text><text x="749" y="1785">P14</text><text x="749" y="1795">P13</text><text x="749" y="1805">P12</text><text x="749" y="1815">P11</text><text x="749" y="1825">P10</text></g>
<path class="g" d="M717,1721h68M774,1721v-27h60M717,1731h118M788,1731v21M717,1741h60v43"/>
<circle cx="774" cy="1721" r="2" class="d"/><circle cx="788" cy="1731" r="2" class="d"/>
<use href="#B" x="785" y="1721"/><text class="n" x="806" y="1725">SDA</text>
<use href="#B" x="788" y="1752"/><text class="n" x="809" y="1756">SCL</text>
<use href="#B" x="777" y="1784"/><text class="n" x="798" y="1788">GND1</text>
<use href="#RH" x="835" y="1694"/><use href="#RH" x="835" y="1731"/><use href="#RH" x="835" y="1766"/>
<text class="c" x="840" y="1680">R30</text><text class="c" x="840" y="1689">10 k</text>
<text class="c" x="840" y="1716">R31</text><text class="c" x="840" y="1725">10 k</text>
<text class="c" x="840" y="1753">R32</text><text class="c" x="840" y="1762">10 k</text>
<path class="w" d="M869,1694h2v72h-2"/><circle cx="871" cy="1731" r="2" class="d"/><circle cx="833" cy="1731" r="2" class="d"/>
<use href="#B" x="876" y="1731"/><text class="n" x="882" y="1722">3.3V1</text>
<text class="n" x="790" y="1770">INT</text><use href="#A" x="808" y="1766"/><path class="w" d="M827,1766h8"/>
</g>

<!-- Q6 / FAIL_REL -->
<g>
<text class="n" x="858" y="1664">ALL_OK</text><use href="#A" x="900" y="1660"/><circle cx="920" cy="1660" r="2" class="d"/><use href="#RH" x="922" y="1660"/><circle cx="961" cy="1660" r="2" class="d"/>
<text class="c" x="934" y="1647">R24</text><text class="c" x="937" y="1656">1 k</text>
<use href="#Q" x="969" y="1660"/>
<text class="c" x="996" y="1663">Q6</text><text class="c" x="996" y="1672">IRLML2402GTRPBF</text>
<use href="#RV" x="961" y="1662"/><text class="c" x="939" y="1680">R25</text><text class="c" x="939" y="1689">10 k</text>
<circle cx="961" cy="1700" r="2" class="d"/><circle cx="983" cy="1680" r="2" class="d"/>
<use href="#U" x="961" y="1702"/><use href="#U" x="983" y="1682"/>
<text class="n" transform="translate(965,1724) rotate(-90)" text-anchor="end">GND1</text><text class="n" transform="translate(987,1704) rotate(-90)" text-anchor="end">GND1</text>
<text class="n" x="973" y="1630">FAIL_REL</text><circle cx="983" cy="1640" r="2" class="d"/><use href="#B" x="985" y="1640"/>
</g>

<!-- K1 relay -->
<g>
<text class="c" x="1089" y="1717">K1</text><text class="c" x="1072" y="1726">NRP18-C12DH</text>
<rect x="1069" y="1733" width="50" height="60" fill="none" stroke="#a03030" stroke-width="1.3"/>
<path class="w" d="M1060,1743h20v12q5,3 0,6q5,3 0,6q5,3 0,6q5,3 0,6v8h-20M1119,1743h-17v15M1102,1758l12,6h5M1102,1770v13h17"/>
<circle cx="1102" cy="1758" r="1.7" fill="none" stroke="#a03030"/><circle cx="1114" cy="1764" r="1.7" fill="none" stroke="#a03030"/><circle cx="1102" cy="1770" r="1.7" fill="none" stroke="#a03030"/>
<text class="n" x="988" y="1747">FAIL_REL</text><use href="#A" x="1038" y="1743"/><circle cx="1060" cy="1743" r="2" class="d"/>
<text class="n" x="1007" y="1786">VIN1</text><use href="#A" x="1038" y="1782"/><circle cx="1060" cy="1782" r="2" class="d"/>
<g class="pn" style="fill:#0000ff;font-size:8px"><text x="1062" y="1740">5</text><text x="1062" y="1779">2</text><text x="1120" y="1740">4</text><text x="1120" y="1760">1</text><text x="1120" y="1780">3</text></g>
<path class="w" d="M1119,1762h10M1119,1784h10M1119,1743h14"/>
<circle cx="1128" cy="1743" r="2" class="d"/><use href="#RH" x="1132" y="1743"/><circle cx="1167" cy="1743" r="2" class="d"/>
<text class="c" x="1143" y="1732">R26</text><text class="c" x="1141" y="1765">1 k</text>
<path d="M1182,1737v12l10,-6z" fill="#dd0000"/><path class="w" d="M1167,1743h41M1193,1736v14M1196,1735l5,-5M1199,1738l5,-5"/>
<text class="c" x="1177" y="1721">LED-TH-3mm_R</text><text class="c" x="1172" y="1760">LED_FAIL</text>
<circle cx="1208" cy="1743" r="2" class="d"/><use href="#B" x="1210" y="1743"/><text class="n" x="1232" y="1747">GND1</text>
<circle cx="1129" cy="1762" r="2" class="d"/><use href="#B" x="1131" y="1762"/><text class="n" x="1151" y="1766">VIN1</text>
<circle cx="1129" cy="1784" r="2" class="d"/><use href="#B" x="1131" y="1784"/><text class="n" x="1152" y="1788">VIN_OK</text>
</g>

<!-- DS18B20 -->
<g>
<rect x="909" y="1801" width="21" height="41" fill="none" stroke="#444" stroke-width="1.5"/>
<g class="p" style="fill:#0000ff;font-size:8.5px"><text x="910" y="1815">DAT</text><text x="910" y="1826">VCC</text><text x="910" y="1838">GND</text></g>
<path class="w" d="M930,1812h22M930,1825h15M930,1837h15"/>
<g class="pn" style="fill:#0000ff;font-size:8px"><text x="935" y="1809">1</text><text x="935" y="1822">2</text><text x="935" y="1834">3</text></g>
<use href="#B" x="952" y="1812"/><text class="n" x="974" y="1816">DAT</text>
<path class="g" d="M945,1825h63M945,1837h31v58M995,1825v17M976,1871h19v-17"/><path class="w" d="M989,1842h12M989,1847h12M995,1847v7"/>
<circle cx="995" cy="1825" r="2" class="d"/><circle cx="976" cy="1871" r="2" class="d"/>
<use href="#B" x="1008" y="1825"/><text class="n" x="1030" y="1829">5V1</text>
<text class="c" x="1005" y="1849">C9</text><text class="c" x="1005" y="1858">100nF</text>
<text class="c" x="885" y="1852">DG350-3.5-03P-14</text><text class="c" x="900" y="1863">DS18B20</text>
<use href="#B" x="977" y="1896"/><text class="n" x="997" y="1900">GND1</text>
<text class="n" x="754" y="1906">DAT</text><use href="#A" x="777" y="1902"/><path class="g" d="M796,1902h57M815,1902v33h3"/><circle cx="815" cy="1902" r="2" class="d"/><use href="#B" x="853" y="1902"/><text class="n" x="874" y="1906">INT</text>
<use href="#RH" x="818" y="1935"/><text class="c" x="826" y="1919">R33</text><text class="c" x="826" y="1928">10 k</text>
<use href="#B" x="857" y="1935"/><text class="n" x="878" y="1939">5V1</text>
</g>

<!-- R28 / EMER connector / switch -->
<g>
<text class="c" x="642" y="1220">R28</text><text class="c" x="632" y="1229">220 Ohm</text>
<text class="n" x="580" y="1242">BL_R</text><use href="#A" x="610" y="1238"/><path class="g" d="M629,1238h8"/><use href="#RH" x="637" y="1238"/><circle cx="672" cy="1238" r="2" class="d"/><use href="#B" x="674" y="1238"/><text class="n" x="695" y="1242">BL</text>
<text class="c" x="828" y="1172">EMER_CONNECTOR</text><text class="c" x="835" y="1182">HDR-F-2.54_1x8</text>
<rect x="863" y="1188" width="20" height="89" fill="none" stroke="#a03030" stroke-width="1.3"/>
<g class="p" style="font-size:9px"><text x="867" y="1201">1</text><text x="867" y="1211">2</text><text x="867" y="1221">3</text><text x="867" y="1231">4</text><text x="867" y="1241">5</text><text x="867" y="1251">6</text><text x="867" y="1261">7</text><text x="867" y="1271">8</text></g>
<use href="#A" x="833" y="1198"/><use href="#A" x="833" y="1208"/><use href="#A" x="833" y="1218"/><use href="#A" x="833" y="1228"/><use href="#A" x="833" y="1238"/><use href="#A" x="833" y="1248"/><use href="#A" x="833" y="1258"/><use href="#A" x="833" y="1268"/>
<path stroke="#000" d="M852,1198h11M852,1208h11M852,1218h11M852,1228h11M852,1238h11M852,1248h11M852,1258h11M852,1268h11"/>
<g class="n" text-anchor="end"><text x="832" y="1201">EMER</text><text x="832" y="1211">GND1</text><text x="832" y="1221">VIN1_EMER</text><text x="832" y="1230">VIN1</text><text x="832" y="1240">OUT3_EMER</text><text x="832" y="1251">GND1</text><text x="832" y="1260">PUMP_EMER</text><text x="832" y="1271">GND1</text></g>
<text class="c" x="977" y="1168">EMER_SWITCH</text><text class="c" x="994" y="1179">PKn61-12</text>
<path class="w" d="M1000,1185l5,3l-5,3"/>
<path stroke="#c05050" stroke-dasharray="5 3" d="M1003,1192v88"/>
<g class="w">
<path d="M988,1203h8l16,-7h8M1008,1209h13"/><path d="M988,1228h8l16,-7h8M1008,1234h13"/><path d="M988,1253h8l16,-7h8M1008,1259h13"/><path d="M988,1277h8l16,-7h8M1008,1284h13"/>
</g>
<text class="n" x="965" y="1207" text-anchor="end">EMER</text><use href="#A" x="967" y="1203"/><use href="#B" x="1018" y="1209"/><text class="n" x="1042" y="1213">GND1</text>
<text class="n" x="965" y="1232" text-anchor="end">VIN1_EMER</text><use href="#A" x="967" y="1228"/><use href="#B" x="1018" y="1234"/><text class="n" x="1047" y="1238">VIN1</text>
<text class="n" x="965" y="1257" text-anchor="end">OUT3_EMER</text><use href="#A" x="967" y="1253"/><use href="#B" x="1018" y="1259"/><text class="n" x="1042" y="1263">GND1</text>
<text class="n" x="965" y="1281" text-anchor="end">PUMP_EMER</text><use href="#A" x="967" y="1277"/><use href="#B" x="1018" y="1284"/><text class="n" x="1042" y="1288">GND1</text>
</g>

<!-- Q2 -->
<g>
<text class="n" x="621" y="1302">REL1</text><use href="#A" x="648" y="1298"/><circle cx="669" cy="1298" r="2" class="d"/><use href="#RH" x="672" y="1298"/><circle cx="710" cy="1298" r="2" class="d"/>
<text class="c" x="680" y="1283">R16</text><text class="c" x="683" y="1293">1 k</text>
<use href="#Q" x="717" y="1298"/><text class="c" x="745" y="1301">Q2</text><text class="c" x="745" y="1310">IRLML2402GTRPBF</text>
<circle cx="731" cy="1282" r="2" class="d"/><use href="#B" x="733" y="1278"/><path class="w" d="M731,1282v-4h2"/><text class="n" x="755" y="1282">OUT1</text>
<use href="#RV" x="710" y="1300"/><text class="c" x="688" y="1314">R17</text><text class="c" x="686" y="1325">10 k</text>
<circle cx="710" cy="1338" r="2" class="d"/><circle cx="731" cy="1318" r="2" class="d"/>
<use href="#U" x="710" y="1340"/><use href="#U" x="731" y="1320"/>
<text class="n" transform="translate(714,1362) rotate(-90)" text-anchor="end">GND1</text><text class="n" transform="translate(735,1342) rotate(-90)" text-anchor="end">GND1</text>
</g>
<!-- LED_EMER -->
<g>
<text class="n" x="763" y="1344">VIN1_EMER</text><use href="#A" x="822" y="1340"/><circle cx="842" cy="1340" r="2" class="d"/><use href="#RH" x="846" y="1340"/>
<text class="c" x="857" y="1331">R27</text><text class="c" x="855" y="1353">1 k</text>
<path d="M897,1334v12l10,-6z" fill="#dd0000"/><path class="w" d="M880,1340h43M908,1333v14M911,1332l5,-5M914,1335l5,-5"/>
<text class="c" x="890" y="1319">LED-TH-3mm_R</text><text class="c" x="885" y="1353">LED_EMER</text>
<use href="#B" x="925" y="1340"/><text class="n" x="945" y="1344">EMER</text>
</g>
<!-- Q3 -->
<g>
<text class="n" x="911" y="1427">REL2</text><use href="#A" x="938" y="1423"/><circle cx="958" cy="1423" r="2" class="d"/><use href="#RH" x="961" y="1423"/><circle cx="1000" cy="1423" r="2" class="d"/>
<text class="c" x="972" y="1407">R18</text><text class="c" x="975" y="1417">1 k</text>
<use href="#Q" x="1007" y="1423"/><text class="c" x="1035" y="1426">Q3</text><text class="c" x="1035" y="1435">IRLML2402GTRPBF</text>
<circle cx="1021" cy="1407" r="2" class="d"/><use href="#B" x="1023" y="1403"/><text class="n" x="1045" y="1407">OUT2</text>
<use href="#RV" x="1000" y="1425"/><text class="c" x="977" y="1441">R19</text><text class="c" x="976" y="1451">10 k</text>
<circle cx="1000" cy="1463" r="2" class="d"/><circle cx="1021" cy="1443" r="2" class="d"/>
<use href="#U" x="1000" y="1465"/><use href="#U" x="1021" y="1445"/>
<text class="n" transform="translate(1004,1487) rotate(-90)" text-anchor="end">GND1</text><text class="n" transform="translate(1025,1467) rotate(-90)" text-anchor="end">GND1</text>
</g>
<!-- Q4 -->
<g>
<text class="n" x="1023" y="1520">REL3</text><use href="#A" x="1051" y="1516"/><circle cx="1071" cy="1516" r="2" class="d"/><use href="#RH" x="1076" y="1516"/><circle cx="1113" cy="1516" r="2" class="d"/>
<text class="c" x="1082" y="1500">R20</text><text class="c" x="1085" y="1510">1 k</text>
<use href="#Q" x="1120" y="1516"/><text class="c" x="1147" y="1519">Q4</text><text class="c" x="1147" y="1528">IRLML2402GTRPBF</text>
<circle cx="1134" cy="1496" r="2" class="d"/><path class="g" d="M1134,1500v-27h2M1134,1496h13"/>
<use href="#B" x="1134" y="1473"/><text class="n" x="1155" y="1477">OUT3_EMER</text>
<use href="#B" x="1147" y="1496"/><text class="n" x="1168" y="1500">OUT3</text>
<use href="#RV" x="1113" y="1518"/><text class="c" x="1090" y="1535">R21</text><text class="c" x="1088" y="1546">10 k</text>
<circle cx="1113" cy="1556" r="2" class="d"/><circle cx="1134" cy="1536" r="2" class="d"/>
<use href="#U" x="1113" y="1558"/><use href="#U" x="1134" y="1538"/>
<text class="n" transform="translate(1117,1580) rotate(-90)" text-anchor="end">GND1</text><text class="n" transform="translate(1138,1560) rotate(-90)" text-anchor="end">GND1</text>
</g>
<!-- Q5 -->
<g>
<text class="n" x="1068" y="1644">REL4</text><use href="#A" x="1095" y="1640"/><circle cx="1115" cy="1640" r="2" class="d"/><use href="#RH" x="1119" y="1640"/><circle cx="1157" cy="1640" r="2" class="d"/>
<text class="c" x="1130" y="1622">R22</text><text class="c" x="1133" y="1633">1 k</text>
<use href="#Q" x="1163" y="1640"/><text class="c" x="1192" y="1643">Q5</text><text class="c" x="1192" y="1653">IRLML2402GTRPBF</text>
<circle cx="1177" cy="1622" r="2" class="d"/><path class="g" d="M1177,1624v-23h1M1177,1622h18"/>
<use href="#B" x="1178" y="1601"/><text class="n" x="1198" y="1605">PUMP_EMER</text>
<use href="#B" x="1195" y="1622"/><text class="n" x="1220" y="1626">OUT_PUMP</text>
<use href="#RV" x="1157" y="1642"/><text class="c" x="1135" y="1659">R23</text><text class="c" x="1133" y="1668">10 k</text>
<circle cx="1157" cy="1680" r="2" class="d"/><circle cx="1177" cy="1660" r="2" class="d"/>
<use href="#U" x="1157" y="1682"/><use href="#U" x="1177" y="1662"/>
<text class="n" transform="translate(1161,1704) rotate(-90)" text-anchor="end">GND1</text><text class="n" transform="translate(1181,1684) rotate(-90)" text-anchor="end">GND1</text>
</g>

<!-- TITLE BLOCK -->
<g>
<rect x="1188" y="2238" width="444" height="80" fill="none" stroke="#8b1a1a" stroke-width="1.3"/>
<path stroke="#8b1a1a" stroke-width="1.3" d="M1188,2277h444M1292,2298h340M1292,2277v41M1552,2238v60"/>
<text class="tb" x="1193" y="2251" style="font-size:10px">TITLE:</text>
<text class="tb" x="1250" y="2263" style="font-size:14px">Схемы на базе ESP8266</text>
<text class="tb" x="1558" y="2267" style="font-size:10px">REV:</text><text class="tb" x="1596" y="2267" style="font-size:12px">0.2</text>
<text class="tb" x="1298" y="2290" style="font-size:10.5px">Company:</text><text class="tb" x="1364" y="2290" style="font-size:12px">Doctor Repair</text>
<text class="tb" x="1556" y="2293" style="font-size:10.5px">Sheet:</text><text class="tb" x="1601" y="2293" style="font-size:12px">1/1</text>
<text class="tb" x="1298" y="2313" style="font-size:10.5px">Date:</text><text class="tb" x="1345" y="2313" style="font-size:12px">2021-03-13</text>
<text class="tb" x="1436" y="2313" style="font-size:10.5px">Drawn By:</text><text class="tb" x="1502" y="2313" style="font-size:12px">e.vlad.engineer</text>
<path d="M1195,2302c-3,-6 4,-10 8,-7c3,-6 12,-4 12,2c5,0 5,8 0,8h-6" fill="none" stroke="#3a7ee0" stroke-width="2.5"/>
<text x="1220" y="2306" style="fill:#3a7ee0;font-family:'DejaVu Sans';font-weight:bold;font-style:italic;font-size:14px">EasyEDA</text>
</g>
</svg>
</body></html>
